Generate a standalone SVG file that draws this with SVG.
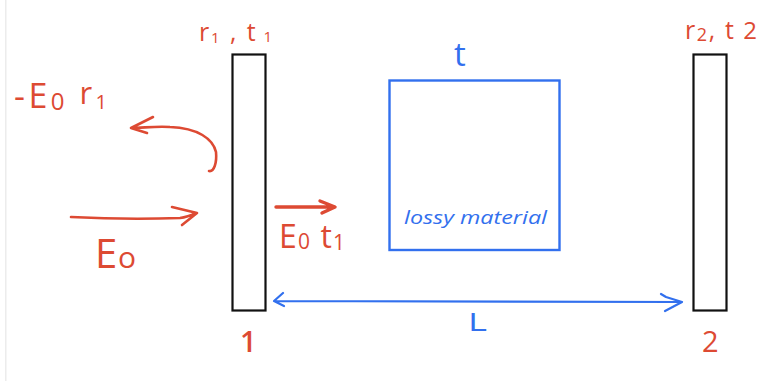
<svg xmlns="http://www.w3.org/2000/svg" width="759" height="381" viewBox="0 0 759 381">
<style>
.mirror{fill:#fff;stroke:#111;stroke-width:2.2}
.slab{fill:#fff;stroke:#3270ee;stroke-width:2.4}
.red{fill:none;stroke:#dd4a33;stroke-width:2.6;stroke-linecap:round;stroke-linejoin:round}
.blue{fill:none;stroke:#3270ee;stroke-width:2.2;stroke-linecap:round;stroke-linejoin:round}
text{font-family:"Open Sans","Liberation Sans",sans-serif}
.rt{fill:#dd4a33;font-weight:400}
.bt{fill:#3270ee}
</style>
<rect width="759" height="381" fill="#fff"/>
<rect x="5" y="0" width="1.5" height="381" fill="#ececec"/>
<g id="mirror1">
<rect class="mirror" x="232.5" y="54.5" width="33" height="256"/>
<text class="rt" font-size="25" x="199" y="41" textLength="73" lengthAdjust="spacing">r<tspan font-size="15" dy="2">1</tspan><tspan dy="-2"> , t</tspan><tspan font-size="15" dy="1"> 1</tspan></text>
<text class="rt" font-size="29" x="240" y="352" style="font-weight:600">1</text>
</g>
<g id="slab">
<rect class="slab" x="389.5" y="80.5" width="170" height="169.5"/>
<text class="bt" font-size="33" x="454" y="66" style="font-weight:500">t</text>
<text class="bt" font-size="19" font-style="italic" x="404" y="224" textLength="143" lengthAdjust="spacingAndGlyphs">lossy material</text>
</g>
<g id="mirror2">
<rect class="mirror" x="693.5" y="54.5" width="33" height="256"/>
<text class="rt" font-size="25" x="685" y="39" textLength="72" lengthAdjust="spacing">r<tspan font-size="18" dy="2">2</tspan><tspan dy="-2">, t</tspan><tspan font-size="24"> 2</tspan></text>
<text class="rt" font-size="29" x="702" y="352" style="font-weight:500">2</text>
</g>
<g id="labels">
<text class="rt" font-size="34" x="14" y="108" textLength="93" lengthAdjust="spacing">-E<tspan font-size="24" dy="2">0</tspan><tspan dy="-6" font-size="31"> r</tspan><tspan font-size="20" dy="5">1</tspan></text>
<text class="rt" font-size="40" x="95" y="268" textLength="41" lengthAdjust="spacing">E<tspan font-size="30">o</tspan></text>
<text class="rt" font-size="32" x="279" y="248" textLength="66" lengthAdjust="spacing">E<tspan font-size="21" dy="1">0</tspan><tspan dy="-1"> t</tspan><tspan font-size="21" dy="2">1</tspan></text>
<text class="bt" font-size="26" x="468" y="331" textLength="19" lengthAdjust="spacingAndGlyphs" style="font-weight:500">L</text>
</g>
<g id="connectors">
<path class="red" d="M209 171C214 172 217 163 216 152C213 139 198 128 170 127C155 126 143 128 131 128M153 117L131 128L147 133"/>
<path class="red" d="M71 217C110 219 150 219 180 218C187 217 192 215 197 213M172 207L197 213L182 225"/>
<path class="red" style="stroke-width:3.4" d="M276 207L334 207M320 201L335 207L322 213"/>
<path class="blue" d="M275 301L682 302M283 293L274 301L284 306M661 294L666 297L682 302L665 311"/>
</g>
</svg>
